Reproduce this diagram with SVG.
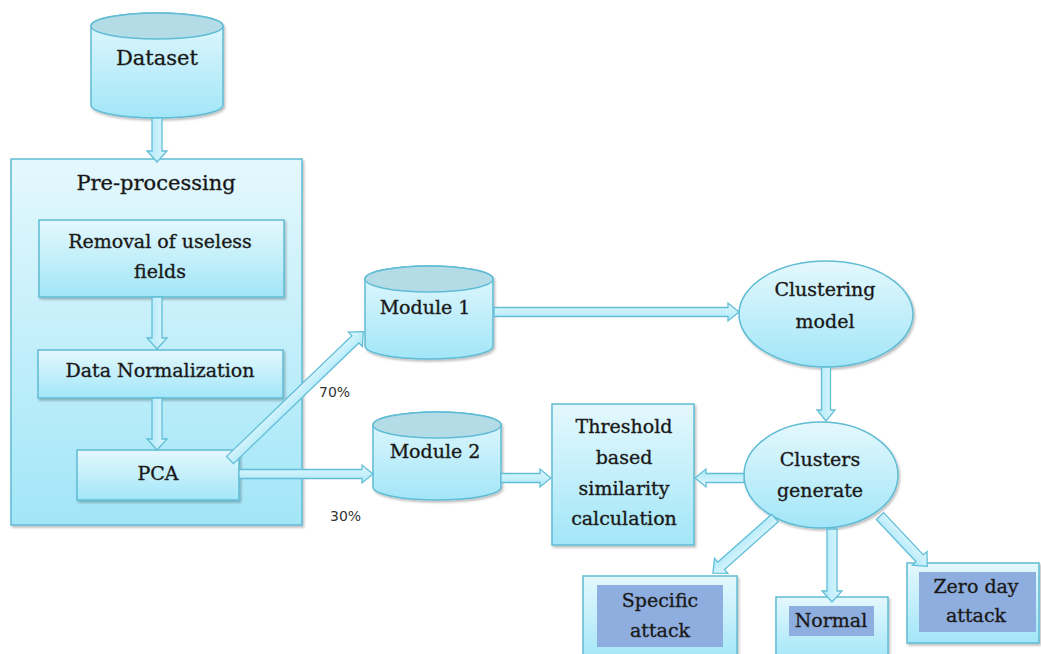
<svg xmlns="http://www.w3.org/2000/svg" width="1041" height="654" viewBox="0 0 1041 654">
<defs>
<linearGradient id="g" x1="0" y1="0" x2="0" y2="1"><stop offset="0" stop-color="#e4f8fd"/><stop offset="1" stop-color="#a2e6f8"/></linearGradient>
<linearGradient id="ga" x1="0" y1="0" x2="0" y2="1"><stop offset="0" stop-color="#e2f7fd"/><stop offset="1" stop-color="#ace9f9"/></linearGradient>
<filter id="sh" x="-10%" y="-10%" width="125%" height="125%"><feDropShadow dx="1.5" dy="2" stdDeviation="1.2" flood-color="#000" flood-opacity="0.25"/></filter>
</defs>
<style>
.n{fill:url(#g);stroke:#5fbcd4;stroke-width:1.5;filter:url(#sh)}
.top{fill:#b3dce7;stroke:#5fbcd4;stroke-width:1.5}
.in{fill:#8eaedf;stroke:none}
.a{fill:url(#ga);stroke:#62bed7;stroke-width:1.3}
text{font-family:"DejaVu Serif","Liberation Serif",serif;font-size:19px;fill:#141414;stroke:#2a2a2a;stroke-width:0.35;text-anchor:middle}
.big{font-size:21px}
.pct{font-family:"DejaVu Sans","Liberation Sans",sans-serif;font-size:14px;fill:#333;stroke:none;text-anchor:start}
</style>
<rect width="1041" height="654" fill="#fff"/>

<g id="dataset">
<path class="n" d="M91,26 A66,13 0 0 1 223,26 V105 A66,13 0 0 1 91,105 Z"/>
<ellipse class="top" cx="157" cy="26" rx="66" ry="13"/>
<text class="big" x="157" y="65">Dataset</text>
</g>

<g id="preprocessing">
<rect class="n" x="11" y="159" width="291" height="366"/>
<text class="big" x="156" y="190">Pre-processing</text>
</g>

<g id="removal">
<rect class="n" x="39" y="220" width="245" height="77"/>
<text x="160" y="248">Removal of useless</text>
<text x="160" y="278">fields</text>
</g>

<g id="normalization">
<rect class="n" x="38" y="350" width="245" height="48"/>
<text x="160" y="377">Data Normalization</text>
</g>

<g id="pca">
<rect class="n" x="77" y="450" width="162" height="50"/>
<text x="158" y="480">PCA</text>
</g>

<g id="module1">
<path class="n" d="M365,279 A64,13 0 0 1 493,279 V346 A64,13 0 0 1 365,346 Z"/>
<ellipse class="top" cx="429" cy="279" rx="64" ry="13"/>
<text x="425" y="314">Module 1</text>
</g>

<g id="module2">
<path class="n" d="M373,425 A64,13 0 0 1 501,425 V487 A64,13 0 0 1 373,487 Z"/>
<ellipse class="top" cx="437" cy="425" rx="64" ry="13"/>
<text x="435" y="458">Module 2</text>
</g>

<g id="clustering">
<ellipse class="n" cx="826" cy="314" rx="87" ry="53"/>
<text x="825" y="296">Clustering</text>
<text x="825" y="328">model</text>
</g>

<g id="clusters">
<ellipse class="n" cx="821" cy="475" rx="77" ry="53"/>
<text x="820" y="466">Clusters</text>
<text x="820" y="497">generate</text>
</g>

<g id="threshold">
<rect class="n" x="552" y="404" width="142" height="141"/>
<text x="624" y="433">Threshold</text>
<text x="624" y="464">based</text>
<text x="624" y="495">similarity</text>
<text x="624" y="525">calculation</text>
</g>

<g id="specific">
<rect class="n" x="583" y="576" width="154" height="86"/>
<rect class="in" x="597" y="585" width="126" height="62"/>
<text x="660" y="607">Specific</text>
<text x="660" y="637">attack</text>
</g>

<g id="normal">
<rect class="n" x="776" y="597" width="112" height="65"/>
<rect class="in" x="789" y="606" width="85" height="30"/>
<text x="831" y="627">Normal</text>
</g>

<g id="zeroday">
<rect class="n" x="907" y="563" width="132" height="80"/>
<rect class="in" x="919" y="572" width="117" height="60"/>
<text x="976" y="593">Zero day</text>
<text x="976" y="622">attack</text>
</g>

<g id="connectors">
<path class="a" transform="translate(157,118) rotate(90)" d="M0,-5 H33 V-10 L44,0 L33,10 V5 H0 Z"/>
<path class="a" transform="translate(157,297) rotate(90)" d="M0,-5 H41 V-10 L52,0 L41,10 V5 H0 Z"/>
<path class="a" transform="translate(157,398) rotate(90)" d="M0,-5 H41 V-10 L52,0 L41,10 V5 H0 Z"/>
<path class="a" transform="translate(230,460) rotate(-43.9)" d="M0,-5 H174 V-10 L185,0 L174,10 V5 H0 Z"/>
<path class="a" transform="translate(239,474)" d="M0,-4.5 H123 V-9 L134,0 L123,9 V4.5 H0 Z"/>
<path class="a" transform="translate(494,312)" d="M0,-4.5 H234 V-9 L245,0 L234,9 V4.5 H0 Z"/>
<path class="a" transform="translate(501,478)" d="M0,-4.5 H39 V-9 L50,0 L39,9 V4.5 H0 Z"/>
<path class="a" transform="translate(744,478) rotate(180)" d="M0,-4.5 H38 V-9 L49,0 L38,9 V4.5 H0 Z"/>
<path class="a" transform="translate(826,367) rotate(90)" d="M0,-4.5 H43 V-9 L54,0 L43,9 V4.5 H0 Z"/>
<path class="a" transform="translate(832,529) rotate(90)" d="M0,-5 H62 V-10 L73,0 L62,10 V5 H0 Z"/>
<path class="a" transform="translate(775,518) rotate(138.4)" d="M0,-5 H72 V-10 L83,0 L72,10 V5 H0 Z"/>
<path class="a" transform="translate(880,516) rotate(46.8)" d="M0,-5 H58 V-10 L69,0 L58,10 V5 H0 Z"/>
<text class="pct" x="319" y="397">70%</text>
<text class="pct" x="330" y="521">30%</text>
</g>
</svg>
